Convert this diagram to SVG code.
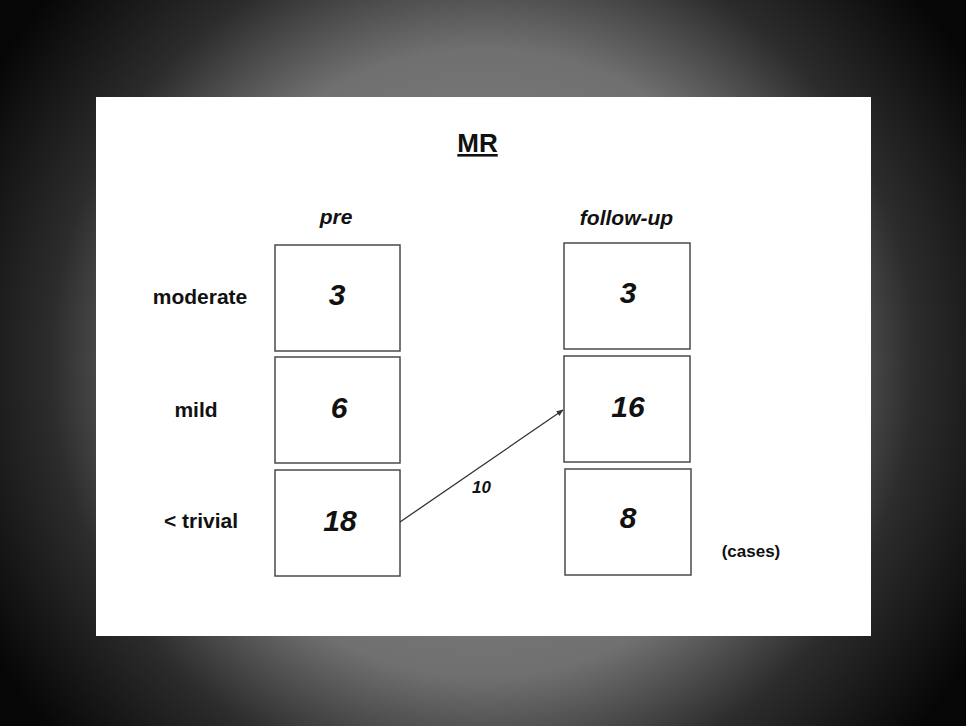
<svg xmlns="http://www.w3.org/2000/svg" width="966" height="726" viewBox="0 0 966 726">
  <defs>
    <radialGradient id="bg" gradientUnits="userSpaceOnUse" cx="483" cy="363" r="570">
      <stop offset="0" stop-color="#8a8a8a"/>
      <stop offset="0.55" stop-color="#707070"/>
      <stop offset="0.76" stop-color="#2c2c2c"/>
      <stop offset="1" stop-color="#060606"/>
    </radialGradient>
    <marker id="arrow" viewBox="0 0 10 10" refX="9" refY="5" markerWidth="7" markerHeight="7" orient="auto" markerUnits="userSpaceOnUse">
      <path d="M0,1 L10,5 L0,9 z" fill="#333"/>
    </marker>
    <style>
      .box { fill: #ffffff; stroke: #4a4a4a; stroke-width: 1.5; }
      .num { font-family: "Liberation Sans", Arial, sans-serif; font-weight: bold; font-style: italic; font-size: 30px; text-anchor: middle; fill: #111; }
      .lbl { font-family: "Liberation Sans", Arial, sans-serif; font-weight: bold; font-size: 21px; text-anchor: middle; fill: #111; }
      .hdr { font-family: "Liberation Sans", Arial, sans-serif; font-weight: bold; font-style: italic; font-size: 21px; text-anchor: middle; fill: #111; }
      .conn { stroke: #333; stroke-width: 1.3; fill: none; }
    </style>
  </defs>

  <rect x="0" y="0" width="966" height="726" fill="url(#bg)"/>
  <rect x="96" y="97" width="775" height="539" fill="#ffffff"/>

  <g id="title">
    <text x="477.5" y="152" font-family="Liberation Sans, Arial, sans-serif" font-weight="bold" font-size="26" text-anchor="middle" text-decoration="underline" fill="#111">MR</text>
  </g>

  <g id="col-headers">
    <text class="hdr" x="336" y="224">pre</text>
    <text class="hdr" x="626.5" y="225">follow-up</text>
  </g>

  <g id="row-labels">
    <text class="lbl" x="200" y="304">moderate</text>
    <text class="lbl" x="196" y="417">mild</text>
    <text class="lbl" x="201" y="528">&lt; trivial</text>
  </g>

  <g id="pre-moderate">
    <rect class="box" x="275" y="245" width="125" height="106"/>
    <text class="num" x="337" y="305">3</text>
  </g>
  <g id="pre-mild">
    <rect class="box" x="275" y="357" width="125" height="106"/>
    <text class="num" x="339" y="418">6</text>
  </g>
  <g id="pre-trivial">
    <rect class="box" x="275" y="470" width="125" height="106"/>
    <text class="num" x="340" y="531">18</text>
  </g>

  <g id="fu-moderate">
    <rect class="box" x="564" y="243" width="126" height="106"/>
    <text class="num" x="628" y="303">3</text>
  </g>
  <g id="fu-mild">
    <rect class="box" x="564" y="356" width="126" height="106"/>
    <text class="num" x="628" y="417">16</text>
  </g>
  <g id="fu-trivial">
    <rect class="box" x="565" y="469" width="126" height="106"/>
    <text class="num" x="628" y="528">8</text>
  </g>

  <g id="connectors">
    <line class="conn" x1="400" y1="522" x2="563" y2="410" marker-end="url(#arrow)"/>
    <text x="481.5" y="492.5" font-family="Liberation Sans, Arial, sans-serif" font-weight="bold" font-style="italic" font-size="17" text-anchor="middle" fill="#111">10</text>
  </g>

  <g id="units">
    <text x="751" y="557" font-family="Liberation Sans, Arial, sans-serif" font-weight="bold" font-size="17" text-anchor="middle" fill="#111">(cases)</text>
  </g>
</svg>
